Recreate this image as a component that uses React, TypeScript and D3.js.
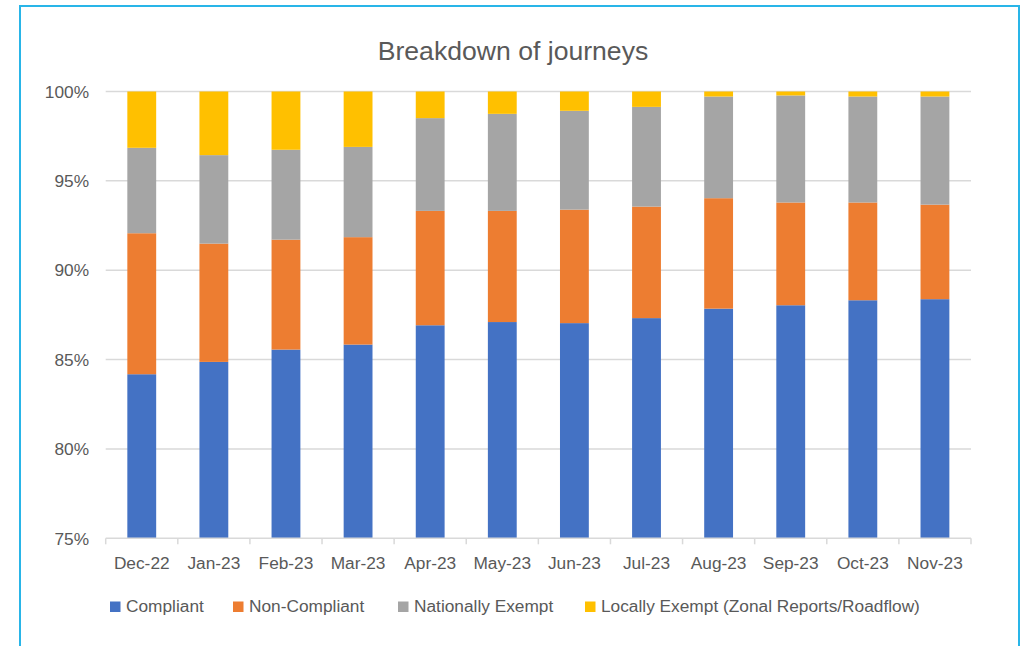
import React from "react";
import * as d3 from "d3";

const months = ["Dec-22", "Jan-23", "Feb-23", "Mar-23", "Apr-23", "May-23", "Jun-23", "Jul-23", "Aug-23", "Sep-23", "Oct-23", "Nov-23"];
const compliant = [84.18, 84.87, 85.56, 85.84, 86.92, 87.1, 87.04, 87.32, 87.85, 88.04, 88.32, 88.38];
const nonCompliant = [7.89, 6.62, 6.15, 6.01, 6.4, 6.22, 6.35, 6.24, 6.18, 5.75, 5.47, 5.29];
const nationallyExempt = [4.78, 4.95, 5.03, 5.05, 5.19, 5.43, 5.53, 5.58, 5.69, 5.99, 5.93, 6.05];
const locallyExempt = [3.15, 3.56, 3.26, 3.1, 1.49, 1.25, 1.08, 0.86, 0.28, 0.22, 0.28, 0.28];
const seriesNames = ["Compliant", "Non-Compliant", "Nationally Exempt", "Locally Exempt (Zonal Reports/Roadflow)"];
const seriesColors = ["#4472C4", "#ED7D31", "#A5A5A5", "#FFC000"];
const yTicks = [75, 80, 85, 90, 95, 100];
const title = "Breakdown of journeys";

const W = 1022;
const H = 646;
const FONT = "'Liberation Sans', Arial, sans-serif";
const TEXT = "#595959";

export default function App() {
  const left = 105.7;
  const right = 971;
  const top = 91.5;
  const bottom = 538.3;

  const x = d3.scaleBand<string>().domain(months).range([left, right]).paddingInner(0.6).paddingOuter(0.3);
  const y = d3.scaleLinear().domain([75, 100]).range([bottom, top]);

  const rows = months.map((m, i) => ({
    month: m,
    s0: compliant[i],
    s1: nonCompliant[i],
    s2: nationallyExempt[i],
    s3: locallyExempt[i],
  }));
  const stack = d3.stack<any>().keys(["s0", "s1", "s2", "s3"]);
  const stacked = stack(rows);

  const step = (right - left) / months.length;
  const boundaries = d3.range(months.length + 1).map((i) => left + i * step);

  const legendX = [110, 233, 398, 585];

  return (
    <svg width={W} height={H} style={{ position: "absolute", left: 0, top: 0 }}>
      <rect x={0} y={0} width={W} height={H} fill="#ffffff" />
      <rect x={20} y={6} width={999} height={700} fill="#ffffff" stroke="#29B5E8" strokeWidth={2} />
      <text x={513} y={59.5} textAnchor="middle" fontFamily={FONT} fontSize={26.6} fill={TEXT}>
        {title}
      </text>
      {yTicks.map((t) => (
        <g key={t}>
          {t !== 75 && (
            <line x1={left} x2={right} y1={y(t)} y2={y(t)} stroke="#D9D9D9" strokeWidth={1.5} />
          )}
          <text x={89} y={y(t)} dy="0.36em" textAnchor="end" fontFamily={FONT} fontSize={17.3} fill={TEXT}>
            {t}%
          </text>
        </g>
      ))}
      {stacked.map((layer, si) => (
        <g key={si} fill={seriesColors[si]}>
          {layer.map((d, i) => {
            const y0 = Math.max(d[0], 75);
            const y1 = Math.min(d[1], 100);
            return (
              <rect
                key={i}
                x={x(months[i])!}
                width={x.bandwidth()}
                y={y(y1)}
                height={Math.max(0, y(y0) - y(y1))}
              />
            );
          })}
        </g>
      ))}
      <line x1={left} x2={right} y1={bottom} y2={bottom} stroke="#D9D9D9" strokeWidth={1.5} />
      {boundaries.map((bx, i) => (
        <line key={i} x1={bx} x2={bx} y1={bottom} y2={bottom + 6} stroke="#D9D9D9" strokeWidth={1.5} />
      ))}
      {months.map((m) => (
        <text
          key={m}
          x={x(m)! + x.bandwidth() / 2}
          y={569.3}
          textAnchor="middle"
          fontFamily={FONT}
          fontSize={17.3}
          fill={TEXT}
        >
          {m}
        </text>
      ))}
      {seriesNames.map((n, i) => (
        <g key={n}>
          <rect x={legendX[i]} y={601.5} width={10.5} height={10.5} fill={seriesColors[i]} />
          <text x={legendX[i] + 16} y={611.7} fontFamily={FONT} fontSize={17.3} fill={TEXT}>
            {n}
          </text>
        </g>
      ))}
    </svg>
  );
}
